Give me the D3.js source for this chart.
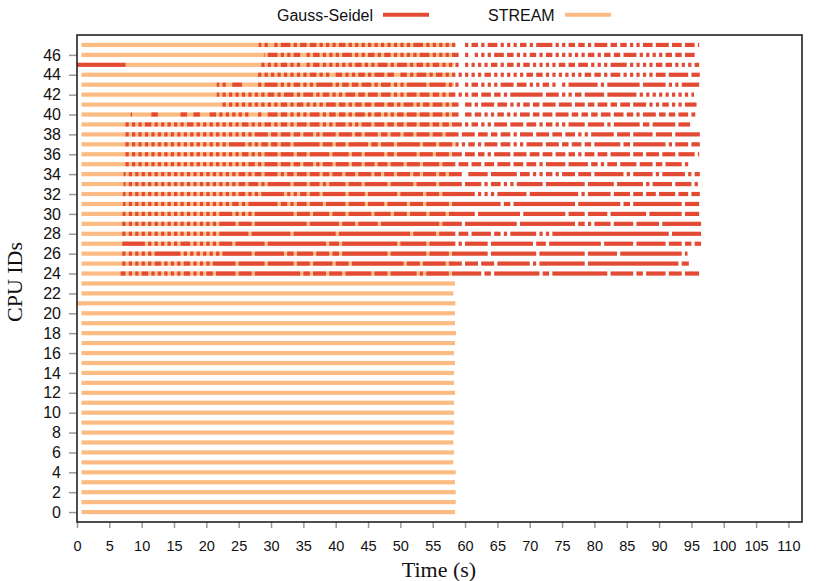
<!DOCTYPE html>
<html><head><meta charset="utf-8">
<script src="https://cdn.jsdelivr.net/npm/d3@7"></script>
<style>body{margin:0;background:#fff}svg{display:block}</style>
</head><body>
<svg id="chart" width="830" height="581"></svg>
<script>
// ---------------- data ----------------
const cpuIds = [0,1,2,3,4,5,6,7,8,9,10,11,12,13,14,15,16,17,18,19,20,21,22,23,
                24,25,26,27,28,29,30,31,32,33,34,35,36,37,38,39,40,41,42,43,44,45,46,47];
// STREAM span on every CPU (s)
const streamStart = [0.7,0.7,0.7,0.7,0.7,0.7,0.7,0.7,0.7,0.7,0.7,0.7,0.7,0.7,0.7,0.7,0.7,0.7,0.7,0.7,0.7,0.0,0.7,0.7,
                     0.7,0.7,0.7,0.7,0.7,0.7,0.7,0.7,0.7,0.7,0.7,0.7,0.7,0.7,0.7,0.7,0.7,0.7,0.7,0.7,0.7,7.3,0.7,0.7];
const streamEnd = [58.45,58.55,58.55,58.45,58.55,58.2,58.3,58.2,58.3,58.3,58.3,58.3,58.45,58.3,58.3,58.45,58.3,58.45,58.6,58.45,58.45,58.5,58.2,58.45,
                   58.4,58.4,58.4,58.4,58.4,58.4,58.4,58.4,58.4,58.4,58.4,58.4,58.4,58.4,58.4,58.3,58.3,58.3,58.3,58.3,58.3,58.3,58.3,58.3];
// Gauss-Seidel activity on CPUs 24..47, one character per 0.5 s from t = 0 ('r' = running)
const gsCpus = [24,25,26,27,28,29,30,31,32,33,34,35,36,37,38,39,40,41,42,43,44,45,46,47];
const gsStart = [6.75,6.9,6.9,6.9,7.0,7.0,7.05,7.1,7.1,7.2,7.2,7.4,7.4,7.4,7.4,7.4,8.3,22.5,21.6,21.6,28.0,0.0,28.9,28.1];
const gsEnd   = [96.2,94.6,94.4,96.5,96.5,96.5,96.2,96.2,96.3,96.0,96.3,94.5,96.2,96.3,96.3,94.8,95.6,95.8,95.4,96.2,96.3,96.2,95.5,96.2];
const gsPatterns = [
 "---------- ---rr-r-r- rr-r-r-r-r -r-rr-r-r- rr-rrrrrr- rrrr-rrrrr rrrrrrrrr- rr-rrrr-rr rr-rrrrrrr r-rrrr-rrr rrrrr-r-rr rrrrr-rrrr rrrrr-rr-r rrrrrrrrrr rrr-rr-rrr rrrrrrrrrr rrrr-rrrrr rr-rr-rrrr rr-rrrr-rr rrr",
 "---------- ----r-r-r- r-r-rr-r-r -r-rr-r-r- r-rrrrrrr- rrrrrrrr-r rrrrrrr-rr rr-rrrrrr- rrrr-rrrrr rrrrrrrrrr r-rrrr-rrr rrrr-rrrr- rrrr-rrrr- rrrrrrrrrr -r-rrrrrrr rrrrrrr-rr rrrrrrrrrr rrrrrrrrrr rrrrrr-rrr",
 "---------- ----r-r-r- r-r-rrrrrr rr-r-r-r-r -r-r-rrrrr rrrr-rrrrr rrrr-rr-rr rrr-rrrr-r r-rrrrrrrr rrrrrr-rrr rrrrrrrr-r rrrrr-rrrr rrrrrrr-rr rrrrrrrrrr rr-rrrrrrr rrrrrrr-rr rrrrrrr-rr rrrrrrrrrr rrrrrrr-rr",
 "---------- ----rrrrrr r-r-r-r-r- r-rrr-r-r- r-r-rrrr-r rrrrrrrr-r rrrrrrrrrr rrrrrrr-rr r-rrrrrrrr rrrrrrrrr- rrrrrrrr-r rrrrrrr-r- rrrrrrr-rr rrrrrrrrrr r-rrr-rrrr rrrrrrrrrr rr-rrrrrrr rr-rrrrrrr rr-rrrr-rr -rr",
 "---------- ----r-r-r- r-r-r-r-r- r-r-r-r-r- r-r-rrrrrr rrr-rrrrrr rrrrrr-rrr rrrrrrrrrr -rrrrrrrrr rrrrrrrrrr rrr-rrrrrr r-rrrrr-rr r-rrrrrr-r r-r-rrrrrr rr-r-r-rrr rrrrrrrrrr rrrrrrrrrr rrrrrrrrrr rrr-rrrrrr rrr",
 "---------- ----r-r-r- r-r-r-r-r- r-r-r-r-r- r-r-rrrrr- rrrr-rrrrr rrrrrrrrrr r-rrrrrrrr r-rrrr-rrr rrr-rrrrrr rrrrrrrrrr rr-rrrrrr- rrrrrrrrrr rrrrrr-rrr rrrrrrrrrr rrrr-rr-r- rrrrr-rrrr rr-rrrrrrr -rrrrrrrrr rrr",
 "---------- ----r-r-r- r-r-r-r-r- r-r-r-r-r- r-r-rrrr-r -r-r-rrrrr rrrrrrr-rr rr-rrrrr-r rrr-rrrrrr r-rrrrr-rr rr-rrrrr-r rrrr-rrrrr rrr-rrrrrr rrrrrrr-rr rrrrrrrrrr r-rrrrr-rr rrrr-rrrrr rrrrrr-rrr rrrrrrr-rr rrr",
 "---------- ----r-r-r- r-r-r-r-r- r-r-r-r-r- r-r-r-r-rr -r-rrrrrrr rr-rr-r-rr r-rrrr-rrr rrr-rrrrr- rrrrr-rrrr rr-rrrr-rr rrrrr-rrrr rrrrrrrrrr r-rr-rrrrr rrrrrrrrrr rrrr-rrrrr rrrrrrrr-r r-rrrrrrrr rrrrrrr-rr rrr",
 "---------- ----r-r-r- r-r-r-r-r- r-r-r-r-r- r-r-r-r-r- rr-r-r-rrr rrrr-r-r-r r-rrr-rrrr rrr-rrrrr- rrrrrrrrr- rrrrrrr-rr rr-rrrrrrr rrr-r-r-r- rrrrrrrrr- rrrrrrrrrr rrrrr-r-rr rrrrr-rrrr r-rrr-rrr- rrrrr-rrr- rrr",
 "---------- ----r-r-r- r-r-r-r-r- r-r-r-r-r- r-r-r-r-r- rr-rrr-r-r rrrrrr-rrr r-rrr-r-rr rrr-rrrr-r rrrrrr-rrr rrrr-rrrrr r-rrrrrrr- rrrrr-r-rr r-r-r-rrrr rrrr-rrrrr rrrrrrr-rr rrrrrr-rrr rrrrr-r-rr rrrr-rrrrr -rr",
 "---------- ----r-r-r- r-r-r-r-r- r-r-r-r-r- r-r-r-r-r- rr-r-rr-rr rr-r-rr-rr r-rrr-rr-r rr-rrr-rrr r-rr-rrr-r rrr-rr-rrr r-rr-rrrr- -rrrrrr-rr rrrrrr-rrr -r-r-rr-r- rrrr-rrrr- rrrrrrrrr- r-rrrrrr-r -rrrrrrr-r -rrr",
 "---------- -----r-r-r -r-r-r-r-r -r-r-r-r-r -r-r-r-r-r -r-rr-r-rr rr-rrr-rr- rrr-r-rrr- rrrr-rrr-r rr-rrr-rrr r-rrrr-rrr rr-rrrr-rr r-rrr-rrr- rrrr-rrr-r rr-r-rrrrr r-rrrrrr-r r-r-rrr-rr rrr-rrrr-r r-rrrrr-rr",
 "---------- -----r-r-r -r-r-r-r-r -r-r-r-r-r -r-r-r-r-r -rr-r-r-rr rr-rrrr-rr r-rrrrrr-r rrrr-rrr-r rrrrr-rr-r rrrrr-rrrr -rrrr-rrr- rrr-rr-r-r rrrr-rrrr- rrr-rrr-rr r-rr-r-rrr -rrr-rrrrr r-rrr-rrrr -rrrr-rrrr r-r",
 "---------- -----r-r-r -r-r-r-r-r -r-r-r-r-r -r-r-r-rrr rr-r-r-rr- rr-rrr-rrr rrrrr-rrr- rrr-rrrrrr -rr-rrrr-r rrrrrr-rrr r-rrrr-r-r -rr-r-rrrr -rrr-r-r-r rrrr-rrrr- rr-rrr-rr- rrrrrrrr-r r-rrrrrrrr rr-r-rrrr- rrr",
 "---------- -----r-r-r -r-r-r-r-r -r-r-r-r-r -r-r-r-r-r -r-r-rrrr- rr-rrr-rr- rrr-r-rrrr -rrrr-rr-r rrr-rr-rrr -rrr-rrrr- rrr-rrrr-r rrr-rrr-rr -rrr-r-rrr r-rrrr-rrr -rrr-r-r-r rrrrrr-rrr r-rrrrrr-r rrrr-rrrrr rrr",
 "---------- -----r-r-r -rr-r-r-r- r-r-rr-r-r -r-r-r-r-r -rr-r-r-rr -r-rr-r-rr r-rrr-r-r- rrr-r-r-rr r-rrr-rr-r r-rrr-rrr- rr-rr-rrr- r-rr-r-r-r rrr-rrrr-r rr-r-rr-r- r-rrrrr-rr rrr-r-rrrr rrrr-rr-rr rrrrr-rrrr",
 "---------- ------r--- ---rr----- --rr--rr-- -rr-r-r-r- r-r---r--r rr-rr-r-r- r-rrr-r-rr -rr-r-rrr- r-rr-r-r-r r-rrr-rrr- rrr-r-rr-- rr-rr-r-r- rr-r-r-rrr -rr-rrr-rr rr-rr-rr-r r-rrr-rrr- rr-r-rrrr- rr-rr-rrr- rr",
 "---------- ---------- ---------- ---------- -----r-r-r -r-r-r-r-r -r-rr-r-rr -r-r-r-rrr -rr-r-rr-r r-rrr-rr-r -rrr-r-rr- rrr-r-rr-- rr-r-rrrr- rrr-r-r-rr -rr-rrrr-r rrr-rrr-rr -rrr-rr-rr r-rrrr-r-r -rr-r-r-rr rr",
 "---------- ---------- ---------- ---------- ---r-r-r-r -r-r-r-r-r r-r-rrr-r- rrr-r-rr-r -r-rrr-rr- rrr-rrr-r- r-rrr-rrr- rr-r-rr-r- r-rr-rrr-r r-r-rrrrrr rrrr-rrrr- r-r-rr-rrr rrr-rrrrrr rrr-r-r-r- r-r-r-r-r- r",
 "---------- ---------- ---------- ---------- ---r-r--rr r-----r-rr rr-r-r-rr- r-r-rrrrr- r-rr-rr-rr r-r-rrr-r- r-rrrrrr-r rrrr-r-r-- r-rr-r-r-r -rrrr-rrr- r-r-rr-r-- r-rrrrrrrr r-r-rrrrrr rrrr-rrrrr rr-r-r-rrr rrr",
 "---------- ---------- ---------- ---------- ---------- ------r-r- r-r-r-r-r- r-rr-r-r-- rr-r-r-rr- r-rrr-rr-- rr-r-rrr-r -rr-r-r-r- r-r-r-rr-r -r-r-r-r-r r-rr-r-r-r -r-r-r-rr- rr-r-rrr-r -r-r-r-r-r rr-rrrrrr- rrr",
 "rrrrrrrrrr rrrrr----- ---------- ---------- ---------- -------r-r -r-rr-r-r- -r-rr-r-r- r-r-r-rr-r -r-rrr-r-r rr-r-rr-r- rr-r-r-r-- r-r-r-r-rr -r-rr-r-rr -r-r-r-r-r r-rr-rrr-r -r-r-rrrrr -r-r-r-r-r r-rr-r-r-r -rr",
 "---------- ---------- ---------- ---------- ---------- -------r-r rr-r-r-rr- -r-rr-r-r- r-rrr-r-r- rr-r-rr-r- r-r-r-rrr- r-r-r-rr-- r--r-r-r-r rr-rr-r-r- rr-r-rr-r- r-r-r-r-rr -r-rr-rr-r rrr-r-r-r- r-rr-rr-rr r",
 "---------- ---------- ---------- ---------- ---------- ------r-r- -r-rrr-r-r r-rr-r-r-r -rr-r-r-r- r-r-r-r-r- r-r-rrr-r- r-r-r-r--- r-rr-r-rrr -r-r-r-rr- r-rrrrr-r- r-rr-rr-r- rrrr-rr-rr -r-r-rrr-r rrr-rrr-rr r-r"
];
const cellSec = 0.5;
const xTicks = [0,5,10,15,20,25,30,35,40,45,50,55,60,65,70,75,80,85,90,95,100,105,110];
const yTicks = [0,2,4,6,8,10,12,14,16,18,20,22,24,26,28,30,32,34,36,38,40,42,44,46];
const seriesNames = ["Gauss-Seidel", "STREAM"];
const seriesColors = ["#e34a33", "#fdbb84"];
const xTitle = "Time (s)";
const yTitle = "CPU IDs";

// ---------------- chart ----------------
const svg = d3.select("#chart");
const W = 830, H = 581;
const plot = {left: 77, top: 35, right: 802, bottom: 522};
const x = d3.scaleLinear().domain([0, 112.1]).range([plot.left, plot.right]);
const y = d3.scaleLinear().domain([-1, 48]).range([plot.bottom, plot.top]);
const barH = 4.2;

svg.append("rect").attr("width", W).attr("height", H).attr("fill", "#fff");

// STREAM bars
const streamData = cpuIds.map((c, i) => ({cpu: c, s: streamStart[i], e: streamEnd[i]}));
svg.append("g").selectAll("rect").data(streamData).join("rect")
  .attr("x", d => x(d.s))
  .attr("width", d => x(d.e) - x(d.s))
  .attr("y", d => y(d.cpu) - barH / 2)
  .attr("height", barH)
  .attr("fill", seriesColors[1]);

// Gauss-Seidel segments
function runs(pattern, s, e) {
  const str = pattern.replace(/\s/g, "");
  const out = [];
  let i = 0;
  while (i < str.length) {
    if (str[i] === "r") {
      let j = i;
      while (j < str.length && str[j] === "r") j++;
      const a = Math.max(i * cellSec, s), b = Math.min(j * cellSec, e);
      if (b > a) out.push([a, b]);
      i = j;
    } else i++;
  }
  return out;
}
const gsData = [];
gsCpus.forEach((c, k) => {
  runs(gsPatterns[k], gsStart[k], gsEnd[k]).forEach(([a, b]) => gsData.push({cpu: c, s: a, e: b}));
});
svg.append("g").selectAll("rect").data(gsData).join("rect")
  .attr("x", d => x(d.s))
  .attr("width", d => x(d.e) - x(d.s))
  .attr("y", d => y(d.cpu) - barH / 2)
  .attr("height", barH)
  .attr("fill", seriesColors[0]);

// axes
const xAxis = d3.axisBottom(x).tickValues(xTicks).tickSize(6).tickPadding(13).tickSizeOuter(0);
const gx = svg.append("g").attr("transform", `translate(0,${plot.bottom})`).call(xAxis);
const yAxis = d3.axisLeft(y).tickValues(yTicks).tickSize(8).tickPadding(8).tickSizeOuter(0);
const gy = svg.append("g").attr("transform", `translate(${plot.left},0)`).call(yAxis);
[gx, gy].forEach(g => {
  g.select(".domain").remove();
  g.selectAll(".tick line").attr("stroke", "#999").attr("stroke-width", 1.5);
  g.selectAll(".tick text").attr("fill", "#111").attr("font-family", "'Liberation Sans', Arial, sans-serif");
});
gx.selectAll(".tick text").attr("font-size", 14.5);
gy.selectAll(".tick text").attr("font-size", 16);

// frame
svg.append("rect")
  .attr("x", plot.left).attr("y", plot.top)
  .attr("width", plot.right - plot.left).attr("height", plot.bottom - plot.top)
  .attr("fill", "none").attr("stroke", "#222").attr("stroke-width", 1.6);

// axis titles
svg.append("text").attr("x", 439).attr("y", 577).attr("text-anchor", "middle")
  .attr("font-family", "'Liberation Serif', 'Times New Roman', serif").attr("font-size", 22)
  .attr("fill", "#111").text(xTitle);
svg.append("text").attr("transform", "translate(22,282) rotate(-90)").attr("text-anchor", "middle")
  .attr("font-family", "'Liberation Serif', 'Times New Roman', serif").attr("font-size", 22)
  .attr("fill", "#111").text(yTitle);

// legend
const legendPos = [{tx: 277, lx1: 383, lx2: 429}, {tx: 488, lx1: 565, lx2: 611}];
const lg = svg.append("g").selectAll("g").data(seriesNames).join("g");
lg.append("text").attr("x", (d, i) => legendPos[i].tx).attr("y", 20.5)
  .attr("font-family", "'Liberation Sans', Arial, sans-serif").attr("font-size", 16)
  .attr("fill", "#111").text(d => d);
lg.append("line")
  .attr("x1", (d, i) => legendPos[i].lx1).attr("x2", (d, i) => legendPos[i].lx2)
  .attr("y1", 14.7).attr("y2", 14.7)
  .attr("stroke", (d, i) => seriesColors[i]).attr("stroke-width", 4);
</script>
</body></html>
